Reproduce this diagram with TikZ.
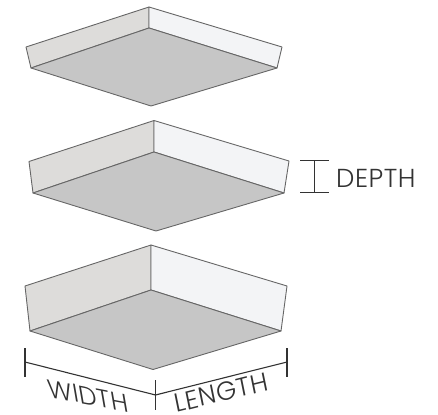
\documentclass[tikz,border=0pt]{standalone}
\usepackage{fontspec}
\setmainfont{Poppins Light}[LetterSpace=2]
\definecolor{leftwall}{HTML}{DDDCDA}
\definecolor{rightwall}{HTML}{F3F4F6}
\definecolor{floorc}{HTML}{C6C6C6}
\definecolor{edge}{HTML}{666666}
\definecolor{dimc}{HTML}{333333}
\tikzset{
  tile/.style={draw=edge,line width=0.9pt,line join=round},
  dimline/.style={draw=dimc,line width=1.1pt},
  lbl/.style={text=dimc,font=\fontsize{26}{26}\selectfont,inner sep=0pt}
}
\newcommand{\tiletop}[7]{%
  \filldraw[tile,fill=leftwall] #1 -- #2 -- #5 -- #6 -- cycle;
  \filldraw[tile,fill=rightwall] #2 -- #3 -- #4 -- #5 -- cycle;
  \filldraw[tile,fill=floorc] #6 -- #5 -- #4 -- #7 -- cycle;
}
\begin{document}
\begin{tikzpicture}[x=1pt,y=-1pt]
\useasboundingbox (0,0) rectangle (438,414);
\tiletop{(26,47)}{(149,7)}{(282,47)}{(277,68)}{(149,28)}{(31,68)}{(151,106)}
\tiletop{(29,161.5)}{(154,120.5)}{(289,161)}{(284,193)}{(154,152)}{(33,193)}{(156,231)}
\tiletop{(25,286)}{(151,245)}{(287,286)}{(281,331)}{(151,290)}{(30,331)}{(153,369.5)}
% depth
\coordinate (da) at (300,160.5); \coordinate (db) at (329,160.5);
\coordinate (dc) at (300,192.5); \coordinate (dd) at (329,192.5);
\coordinate (de) at (314.5,160.5); \coordinate (df) at (314.5,192.5);
\draw[dimline] (da) -- (db); \draw[dimline] (dc) -- (dd); \draw[dimline] (de) -- (df);
\node[lbl,anchor=base west] (depth) at (336,187) {DEPTH};
% width length
\coordinate (wa) at (25,362); \coordinate (wb) at (155.5,395); \coordinate (wc) at (287,362);
\draw[dimline] (wa) -- (wb) -- (wc);
\draw[dimline] (25,348) -- (25,377);
\draw[dimline] (155.5,380) -- (155.5,410);
\draw[dimline] (287,348) -- (287,377);
\begin{scope}[shift={(49,397)}]
\node[lbl,anchor=base west,transform shape,cm={0.982,-0.188,-0.17,0.985,(0,0)}] (width) at (0,0) {WIDTH};
\end{scope}
\begin{scope}[shift={(176,413)}]
\node[lbl,anchor=base west,transform shape,cm={0.97,0.242,-0.2,0.98,(0,0)}] (length) at (0,0) {LENGTH};
\end{scope}
\end{tikzpicture}
\end{document}
